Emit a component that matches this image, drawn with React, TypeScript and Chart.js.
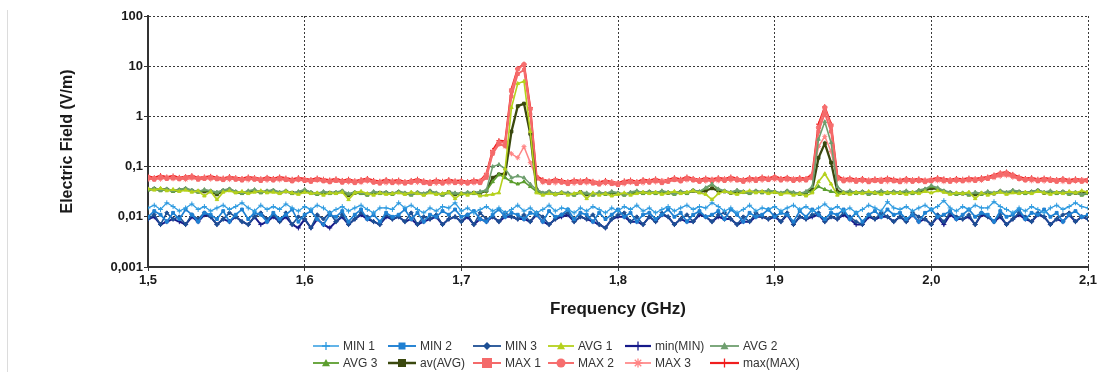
import React, { useEffect, useRef } from 'react';
import { Chart, registerables } from 'chart.js';

Chart.register(...registerables);

// Frequency samples (MHz)
const freqMHz = [
  1500, 1504, 1508, 1512, 1516, 1520, 1524, 1528, 1532, 1536,
  1540, 1544, 1548, 1552, 1556, 1560, 1564, 1568, 1572, 1576,
  1580, 1584, 1588, 1592, 1596, 1600, 1604, 1608, 1612, 1616,
  1620, 1624, 1628, 1632, 1636, 1640, 1644, 1648, 1652, 1656,
  1660, 1664, 1668, 1672, 1676, 1680, 1684, 1688, 1692, 1696,
  1700, 1704, 1708, 1712, 1716, 1720, 1724, 1728, 1732, 1736,
  1740, 1744, 1748, 1752, 1756, 1760, 1764, 1768, 1772, 1776,
  1780, 1784, 1788, 1792, 1796, 1800, 1804, 1808, 1812, 1816,
  1820, 1824, 1828, 1832, 1836, 1840, 1844, 1848, 1852, 1856,
  1860, 1864, 1868, 1872, 1876, 1880, 1884, 1888, 1892, 1896,
  1900, 1904, 1908, 1912, 1916, 1920, 1924, 1928, 1932, 1936,
  1940, 1944, 1948, 1952, 1956, 1960, 1964, 1968, 1972, 1976,
  1980, 1984, 1988, 1992, 1996, 2000, 2004, 2008, 2012, 2016,
  2020, 2024, 2028, 2032, 2036, 2040, 2044, 2048, 2052, 2056,
  2060, 2064, 2068, 2072, 2076, 2080, 2084, 2088, 2092, 2096,
  2100,
];

// Series values in mV/m
const min1 = [
  15, 17, 14, 19, 16, 13, 15, 18, 14, 16,
  13, 15, 17, 14, 16, 19, 15, 13, 17, 14,
  16, 14, 18, 15, 13, 16, 14, 17, 15, 12,
  14, 16, 13, 15, 17, 14, 12, 15, 15, 14,
  19, 15, 17, 14, 12, 15, 13, 16, 15, 19,
  13, 15, 12, 14, 16, 13, 15, 12, 14, 17,
  13, 15, 12, 14, 17, 13, 15, 14, 12, 15,
  13, 16, 14, 12, 15, 13, 16, 14, 17, 13,
  15, 12, 14, 16, 13, 15, 17, 14, 16, 15,
  19, 16, 13, 15, 12, 14, 17, 13, 15, 14,
  16, 13, 15, 17, 14, 16, 13, 15, 18, 14,
  16, 13, 15, 12, 14, 17, 15, 13, 20, 15,
  14, 16, 13, 15, 17, 14, 16, 21, 15, 13,
  16, 14, 17, 15, 15, 20, 16, 14, 12, 15,
  13, 16, 14, 12, 15, 17, 14, 16, 19, 16,
  15,
];
const min2 = [
  10, 13, 11, 8, 12, 9, 14, 11, 8, 12,
  11, 9, 13, 8, 11, 14, 9, 12, 11, 8,
  12, 9, 11, 14, 8, 11, 13, 9, 7, 11,
  10, 13, 8, 11, 14, 9, 11, 8, 12, 10,
  11, 14, 9, 12, 8, 11, 10, 13, 11, 14,
  10, 11, 13, 9, 8, 11, 14, 10, 12, 11,
  9, 12, 11, 8, 13, 10, 11, 14, 9, 12,
  11, 8, 12, 9, 11, 14, 10, 12, 8, 11,
  12, 9, 11, 14, 10, 12, 8, 11, 13, 10,
  11, 13, 9, 14, 11, 8, 12, 10, 11, 14,
  10, 12, 11, 8, 13, 10, 14, 11, 9, 12,
  11, 14, 9, 12, 8, 11, 13, 10, 14, 11,
  12, 9, 11, 8, 12, 14, 10, 11, 13, 9,
  11, 14, 10, 12, 11, 8, 13, 10, 11, 14,
  9, 12, 11, 14, 10, 12, 8, 11, 13, 10,
  11,
];
const min3 = [
  9, 11, 7, 12, 9, 10, 7, 11, 9, 12,
  10, 7, 9, 12, 10, 8, 7, 10, 12, 9,
  11, 8, 12, 7, 10, 9, 6, 11, 9, 12,
  8, 11, 7, 9, 12, 10, 8, 7, 11, 9,
  10, 8, 12, 7, 10, 9, 11, 7, 9, 10,
  8, 11, 7, 12, 9, 10, 8, 12, 10, 9,
  11, 8, 12, 10, 7, 9, 11, 12, 8, 10,
  9, 11, 7, 6, 9, 11, 12, 8, 10, 7,
  10, 8, 12, 10, 7, 9, 11, 8, 12, 10,
  8, 11, 12, 9, 7, 10, 8, 12, 10, 9,
  11, 8, 12, 7, 10, 9, 11, 12, 8, 10,
  9, 12, 10, 8, 7, 11, 9, 12, 10, 8,
  10, 8, 12, 10, 9, 7, 11, 8, 12, 10,
  9, 11, 7, 12, 10, 8, 11, 7, 9, 12,
  10, 8, 12, 10, 7, 9, 11, 12, 8, 10,
  9,
];
const minMin = [
  9, 10, 7, 8, 9, 8, 7, 10, 8, 11,
  10, 7, 9, 8, 10, 8, 7, 10, 7, 8,
  10, 8, 10, 7, 6, 9, 6, 9, 7, 6,
  8, 10, 7, 9, 11, 9, 8, 7, 10, 9,
  10, 8, 9, 7, 8, 9, 10, 7, 9, 10,
  8, 10, 7, 9, 8, 10, 8, 10, 10, 9,
  9, 8, 11, 8, 7, 9, 10, 11, 8, 10,
  9, 8, 7, 6, 9, 10, 10, 8, 8, 7,
  10, 8, 11, 10, 7, 9, 8, 8, 11, 10,
  8, 10, 9, 9, 7, 8, 8, 10, 10, 9,
  10, 8, 11, 7, 10, 9, 10, 11, 8, 10,
  9, 11, 9, 7, 7, 10, 9, 10, 10, 8,
  10, 8, 11, 8, 9, 7, 10, 7, 11, 9,
  9, 10, 7, 11, 10, 8, 10, 7, 9, 11,
  9, 8, 11, 10, 7, 9, 8, 11, 8, 10,
  9,
];
const avg1 = [
  36, 34, 37, 33, 35, 32, 34, 31, 33, 26,
  32, 22, 31, 33, 30, 32, 29, 31, 33, 30,
  31, 29, 32, 30, 28, 31, 29, 30, 27, 30,
  29, 31, 22, 30, 32, 29, 27, 30, 28, 29,
  30, 28, 31, 29, 27, 30, 28, 29, 31, 23,
  29, 27, 30, 26, 27, 28, 30, 90, 1500, 4500,
  5000, 500, 30, 27, 29, 28, 30, 27, 29, 31,
  23, 30, 27, 29, 26, 28, 30, 27, 29, 31,
  29, 31, 28, 30, 32, 29, 31, 33, 30, 28,
  22, 29, 32, 30, 28, 31, 33, 30, 32, 29,
  31, 28, 30, 27, 29, 26, 30, 50, 72, 45,
  27, 30, 28, 31, 29, 32, 30, 28, 31, 29,
  30, 28, 31, 29, 32, 30, 33, 31, 28, 30,
  29, 31, 23, 30, 27, 29, 31, 28, 30, 29,
  31, 29, 32, 30, 28, 31, 29, 32, 30, 33,
  31,
];
const avg2 = [
  35, 37, 34, 36, 33, 35, 37, 34, 32, 35,
  33, 31, 34, 36, 32, 30, 33, 35, 31, 33,
  34, 31, 33, 30, 32, 35, 31, 29, 32, 30,
  31, 33, 29, 31, 30, 28, 32, 30, 31, 29,
  32, 30, 28, 31, 29, 33, 30, 28, 31, 30,
  29, 31, 30, 32, 34, 100, 110, 90, 60, 65,
  60, 45, 35, 30, 32, 29, 31, 30, 28, 31,
  30, 28, 31, 29, 32, 30, 28, 31, 33, 30,
  32, 30, 33, 31, 29, 32, 30, 34, 32, 38,
  45, 36, 33, 31, 34, 32, 30, 33, 31, 34,
  32, 30, 33, 31, 29, 32, 40, 350, 780, 300,
  40, 31, 33, 30, 32, 29, 31, 33, 30, 32,
  31, 33, 30, 34, 36, 42, 38, 33, 31, 29,
  30, 28, 31, 29, 32, 30, 33, 31, 34, 32,
  30, 32, 34, 31, 33, 30, 32, 29, 31, 28,
  30,
];
const avg3 = [
  34, 36, 33, 35, 32, 34, 36, 33, 31, 34,
  32, 30, 33, 35, 31, 29, 32, 34, 30, 32,
  33, 30, 32, 29, 31, 34, 30, 28, 31, 29,
  30, 32, 28, 30, 29, 27, 31, 29, 30, 28,
  31, 29, 27, 30, 28, 32, 29, 27, 30, 29,
  28, 30, 29, 31, 33, 50, 70, 60, 50, 45,
  50, 40, 32, 29, 31, 28, 30, 29, 27, 30,
  29, 27, 30, 28, 31, 29, 27, 30, 32, 29,
  31, 29, 32, 30, 28, 31, 29, 33, 31, 37,
  44, 35, 32, 30, 33, 31, 29, 32, 30, 33,
  31, 29, 32, 30, 28, 31, 32, 40, 35, 32,
  30, 30, 32, 29, 31, 28, 30, 32, 29, 31,
  30, 32, 29, 33, 35, 40, 37, 32, 30, 28,
  29, 27, 30, 28, 31, 29, 32, 30, 33, 31,
  29, 31, 33, 30, 32, 29, 31, 28, 30, 27,
  29,
];
const avAvg = [
  35, 36, 35, 35, 33, 34, 36, 33, 32, 32,
  32, 28, 33, 35, 31, 30, 31, 33, 31, 32,
  33, 30, 32, 30, 30, 33, 30, 29, 30, 30,
  30, 32, 27, 30, 30, 28, 30, 30, 30, 29,
  31, 29, 29, 30, 28, 32, 29, 28, 31, 28,
  29, 29, 30, 30, 33, 60, 70, 72, 500, 1600,
  1800, 450, 35, 29, 31, 28, 30, 29, 28, 31,
  28, 28, 29, 29, 30, 29, 28, 29, 31, 30,
  31, 30, 31, 30, 30, 31, 30, 33, 31, 33,
  37, 33, 32, 30, 32, 31, 31, 32, 31, 32,
  31, 29, 32, 29, 29, 30, 35, 150, 290, 120,
  32, 30, 31, 30, 31, 30, 30, 31, 30, 31,
  30, 31, 30, 32, 34, 37, 36, 32, 30, 29,
  29, 29, 28, 29, 30, 29, 32, 30, 32, 31,
  30, 31, 33, 30, 31, 30, 31, 30, 30, 29,
  31,
];
const max1 = [
  58, 55, 60, 57, 59, 56, 58, 61, 55, 57,
  59, 56, 54, 58, 55, 53, 57, 55, 52, 56,
  53, 57, 54, 51, 55, 52, 50, 54, 51, 49,
  52, 48, 51, 47, 50, 53, 48, 46, 50, 47,
  49, 46, 48, 51, 47, 45, 49, 46, 50, 47,
  48, 46, 49, 47, 60, 180, 280, 260, 2500, 7000,
  8500, 1100, 58, 50, 47, 51, 48, 45, 49, 47,
  50, 46, 44, 48, 45, 43, 47, 49, 45, 50,
  48, 52, 47, 50, 54, 51, 56, 53, 50, 54,
  51, 55, 52, 56, 53, 50, 55, 52, 56, 54,
  58, 53, 56, 52, 55, 53, 60, 500, 1150, 500,
  58, 51, 54, 50, 53, 49, 52, 50, 54, 51,
  49, 53, 50, 52, 49, 51, 55, 52, 50, 53,
  51, 54, 52, 55, 57, 62, 68, 70, 64, 57,
  53, 55, 51, 54, 52, 50, 53, 49, 52, 50,
  51,
];
const max2 = [
  61, 57, 62, 59, 60, 58, 61, 63, 58, 59,
  61, 58, 56, 60, 57, 55, 59, 57, 54, 58,
  55, 59, 56, 53, 57, 54, 52, 56, 53, 51,
  54, 50, 53, 49, 52, 55, 50, 48, 52, 49,
  51, 48, 50, 53, 49, 47, 51, 48, 52, 49,
  50, 48, 51, 49, 65, 190, 300, 300, 3200, 8800,
  10800, 1400, 60, 52, 49, 53, 50, 47, 51, 49,
  52, 48, 46, 50, 47, 45, 49, 51, 47, 52,
  50, 54, 49, 52, 57, 53, 59, 55, 52, 56,
  53, 57, 54, 59, 55, 52, 57, 54, 59, 56,
  61, 55, 58, 54, 57, 55, 65, 600, 1500, 650,
  60, 53, 56, 52, 55, 51, 54, 52, 56, 53,
  51, 55, 52, 54, 51, 53, 57, 54, 52, 55,
  53, 56, 54, 57, 59, 65, 72, 75, 67, 59,
  55, 57, 53, 56, 54, 52, 55, 51, 54, 52,
  53,
];
const max3 = [
  55, 58, 56, 60, 57, 59, 55, 58, 57, 60,
  56, 59, 57, 55, 58, 56, 54, 58, 55, 53,
  56, 54, 57, 52, 54, 55, 51, 53, 54, 50,
  53, 51, 49, 51, 48, 51, 50, 49, 47, 50,
  47, 49, 51, 48, 50, 48, 46, 49, 47, 50,
  46, 49, 47, 50, 70, 200, 280, 250, 180, 150,
  250, 120, 60, 48, 51, 47, 50, 48, 46, 50,
  47, 50, 48, 46, 49, 47, 45, 48, 50, 47,
  52, 49, 53, 51, 55, 52, 54, 57, 53, 51,
  55, 52, 56, 53, 57, 54, 52, 56, 53, 57,
  55, 57, 54, 57, 53, 56, 58, 250, 400, 200,
  55, 57, 52, 55, 51, 54, 52, 56, 50, 53,
  52, 50, 54, 51, 53, 55, 52, 50, 54, 51,
  55, 52, 56, 53, 58, 60, 64, 66, 61, 56,
  55, 52, 54, 51, 55, 53, 50, 53, 51, 54,
  52,
];
const maxMax = [
  64, 60, 66, 62, 65, 61, 63, 66, 60, 62,
  64, 61, 59, 63, 60, 58, 62, 60, 57, 61,
  58, 62, 59, 56, 60, 57, 55, 59, 56, 54,
  57, 53, 56, 52, 55, 58, 53, 51, 55, 52,
  54, 50, 53, 56, 52, 50, 54, 51, 55, 52,
  53, 50, 54, 52, 72, 210, 330, 320, 3500, 9000,
  11000, 1500, 65, 55, 52, 56, 53, 50, 54, 52,
  55, 51, 49, 53, 50, 47, 52, 54, 50, 55,
  53, 57, 52, 55, 60, 56, 62, 58, 55, 59,
  56, 60, 57, 62, 58, 55, 60, 57, 62, 59,
  64, 58, 61, 57, 60, 58, 70, 700, 1550, 700,
  65, 56, 59, 55, 58, 54, 57, 55, 59, 56,
  54, 58, 55, 57, 54, 56, 60, 57, 55, 58,
  56, 59, 57, 60, 62, 68, 75, 78, 70, 62,
  58, 60, 56, 59, 57, 55, 58, 54, 57, 55,
  56,
];

const xTickValues = [1.5, 1.6, 1.7, 1.8, 1.9, 2.0, 2.1];
const xTickLabels = ['1,5', '1,6', '1,7', '1,8', '1,9', '2,0', '2,1'];
const yTickValues = [0.001, 0.01, 0.1, 1, 10, 100];
const yTickLabels = ['0,001', '0,01', '0,1', '1', '10', '100'];

const FONT = "'Liberation Sans', Arial, Helvetica, sans-serif";

type Series = { label: string; values: number[]; color: string; style: string; width: number; radius: number; legendRadius: number };

const series: Series[] = [
  { label: 'MIN 1', values: min1, color: '#2f9be0', style: 'cross', width: 1.3, radius: 2.5, legendRadius: 4 },
  { label: 'MIN 2', values: min2, color: '#1f80d2', style: 'rect', width: 1.7, radius: 2, legendRadius: 3.5 },
  { label: 'MIN 3', values: min3, color: '#1d4f94', style: 'rectRot', width: 1.6, radius: 2, legendRadius: 4 },
  { label: 'AVG 1', values: avg1, color: '#b5d11c', style: 'triangle', width: 1.6, radius: 2, legendRadius: 4 },
  { label: 'min(MIN)', values: minMin, color: '#161a8a', style: 'cross', width: 2, radius: 2.5, legendRadius: 4.5 },
  { label: 'AVG 2', values: avg2, color: '#6f9f6f', style: 'triangle', width: 1.6, radius: 2, legendRadius: 4 },
  { label: 'AVG 3', values: avg3, color: '#5c9e2e', style: 'triangle', width: 1.6, radius: 2, legendRadius: 4 },
  { label: 'av(AVG)', values: avAvg, color: '#3a480e', style: 'rect', width: 2.3, radius: 2, legendRadius: 4 },
  { label: 'MAX 1', values: max1, color: '#f46a6a', style: 'rect', width: 1.8, radius: 2.2, legendRadius: 5 },
  { label: 'MAX 2', values: max2, color: '#f66e6e', style: 'circle', width: 1.8, radius: 2.2, legendRadius: 4.5 },
  { label: 'MAX 3', values: max3, color: '#ff8585', style: 'star', width: 1.5, radius: 2.5, legendRadius: 4.5 },
  { label: 'max(MAX)', values: maxMax, color: '#f01e1e', style: 'cross', width: 2, radius: 2.5, legendRadius: 4.5 },
];

// legend layout (2 rows x 6 columns)
const legendLineX = [313, 388, 473, 548, 625, 710];
const legendTextX = [343, 420, 505, 578, 655, 743];
const legendRowY = [346, 363];

function drawMarker(ctx: CanvasRenderingContext2D, style: string, x: number, y: number, r: number) {
  ctx.beginPath();
  if (style === 'cross') {
    ctx.moveTo(x - r, y); ctx.lineTo(x + r, y);
    ctx.moveTo(x, y - r); ctx.lineTo(x, y + r);
    ctx.stroke();
  } else if (style === 'star') {
    const d = r * 0.72;
    ctx.moveTo(x - r, y); ctx.lineTo(x + r, y);
    ctx.moveTo(x, y - r); ctx.lineTo(x, y + r);
    ctx.moveTo(x - d, y - d); ctx.lineTo(x + d, y + d);
    ctx.moveTo(x - d, y + d); ctx.lineTo(x + d, y - d);
    ctx.stroke();
  } else if (style === 'rect') {
    ctx.rect(x - r, y - r, 2 * r, 2 * r);
    ctx.fill();
  } else if (style === 'rectRot') {
    ctx.moveTo(x, y - r); ctx.lineTo(x + r, y); ctx.lineTo(x, y + r); ctx.lineTo(x - r, y);
    ctx.closePath(); ctx.fill();
  } else if (style === 'triangle') {
    ctx.moveTo(x, y - r); ctx.lineTo(x + r, y + r * 0.8); ctx.lineTo(x - r, y + r * 0.8);
    ctx.closePath(); ctx.fill();
  } else if (style === 'circle') {
    ctx.arc(x, y, r, 0, Math.PI * 2);
    ctx.fill();
  }
}

const gridLegend = {
  id: 'gridLegend',
  afterDraw(chart: any) {
    const ctx: CanvasRenderingContext2D = chart.ctx;
    ctx.save();
    series.forEach((s, i) => {
      const row = Math.floor(i / 6);
      const col = i % 6;
      const y = legendRowY[row];
      const x0 = legendLineX[col];
      const x1 = legendTextX[col] - 4;
      ctx.setLineDash([]);
      ctx.strokeStyle = s.color;
      ctx.fillStyle = s.color;
      ctx.lineWidth = s.width + 0.2;
      ctx.beginPath();
      ctx.moveTo(x0, y);
      ctx.lineTo(x1, y);
      ctx.stroke();
      ctx.lineWidth = 1.3;
      drawMarker(ctx, s.style, (x0 + x1) / 2, y, s.legendRadius);
      ctx.fillStyle = '#333333';
      ctx.font = `12px ${FONT}`;
      ctx.textAlign = 'left';
      ctx.textBaseline = 'middle';
      ctx.fillText(s.label, legendTextX[col], y + 0.5);
    });
    ctx.restore();
  },
};

export default function App() {
  const ref = useRef<HTMLCanvasElement>(null);

  useEffect(() => {
    if (!ref.current) return;
    const datasets = series.map((s) => ({
      label: s.label,
      data: s.values.map((v, k) => ({ x: freqMHz[k] / 1000, y: v / 1000 })),
      borderColor: s.color,
      backgroundColor: s.color,
      pointBackgroundColor: s.color,
      pointBorderColor: s.color,
      borderWidth: s.width,
      pointStyle: s.style,
      pointRadius: s.radius,
      pointBorderWidth: 1,
      pointHoverRadius: 0,
      tension: 0,
      fill: false,
    }));
    const chart = new Chart(ref.current, {
      type: 'line',
      data: { datasets },
      options: {
        animation: false,
        responsive: false,
        events: [],
        layout: { padding: { left: 54, right: 14, top: 16, bottom: 45 } },
        plugins: { legend: { display: false }, tooltip: { enabled: false } },
        scales: {
          x: {
            type: 'linear',
            min: 1.5,
            max: 2.1,
            afterBuildTicks: (s: any) => { s.ticks = xTickValues.map((v) => ({ value: v })); },
            afterFit: (s: any) => { s.height = 60; },
            ticks: {
              autoSkip: false,
              maxRotation: 0,
              padding: 2,
              color: '#1a1a1a',
              font: { family: FONT, size: 13, weight: 'bold' },
              callback: (_v: any, i: number) => xTickLabels[i],
            },
            grid: { color: '#3a3a3a', lineWidth: 1, tickLength: 4, tickColor: '#333' },
            border: { display: true, color: '#333333', width: 2, dash: [2, 2] },
            title: {
              display: true,
              text: 'Frequency (GHz)',
              color: '#1a1a1a',
              font: { family: FONT, size: 17, weight: 'bold' },
              padding: { top: 0, bottom: 7 },
            },
          },
          y: {
            type: 'logarithmic',
            min: 0.001,
            max: 100,
            afterBuildTicks: (s: any) => { s.ticks = yTickValues.map((v) => ({ value: v, major: true })); },
            afterFit: (s: any) => { s.width = 94; },
            ticks: {
              autoSkip: false,
              padding: 1,
              color: '#1a1a1a',
              font: { family: FONT, size: 13, weight: 'bold' },
              callback: (_v: any, i: number) => yTickLabels[i],
            },
            grid: { color: '#3a3a3a', lineWidth: 1, tickLength: 4, tickColor: '#333' },
            border: { display: true, color: '#333333', width: 2, dash: [2, 2] },
            title: {
              display: true,
              text: 'Electric Field (V/m)',
              color: '#1a1a1a',
              font: { family: FONT, size: 16, weight: 'bold' },
              padding: { top: 4, bottom: 0 },
            },
          },
        },
      } as any,
      plugins: [gridLegend],
    });
    return () => chart.destroy();
  }, []);

  return (
    <div style={{ position: 'absolute', left: 0, top: 0, width: 1102, height: 372, background: '#ffffff', overflow: 'hidden' }}>
      <div style={{ position: 'absolute', left: 7, top: 10, width: 1, height: 362, background: '#dcdcdc' }} />
      <canvas ref={ref} width={1102} height={372} style={{ position: 'absolute', left: 0, top: 0, width: 1102, height: 372 }} />
    </div>
  );
}
